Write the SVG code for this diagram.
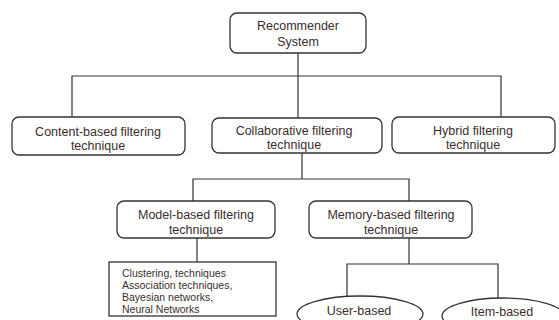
<svg xmlns="http://www.w3.org/2000/svg" width="559" height="320" viewBox="0 0 559 320">
<style>
.box{fill:#fff;stroke:#333;stroke-width:1.3}
.t{font-family:"Liberation Sans",Arial,sans-serif;font-size:12.5px;fill:#3a2e2e;text-anchor:middle}
.s{font-family:"Liberation Sans",Arial,sans-serif;font-size:10.5px;fill:#3a2e2e}
.c{fill:none;stroke:#333;stroke-width:1.2}
</style>
<rect width="559" height="320" fill="#fff"/>
<g id="connectors">
<polyline class="c" points="298,53 298,76"/>
<polyline class="c" points="72,117 72,76 501,76 501,117"/>
<polyline class="c" points="298,76 298,118"/>
<polyline class="c" points="302,153 302,179"/>
<polyline class="c" points="193,201 193,179 409,179 409,201"/>
<polyline class="c" points="197,238 197,262"/>
<polyline class="c" points="409,238 409,264"/>
<polyline class="c" points="347,297 347,264 498,264 498,298"/>
</g>
<g id="recommender">
<rect class="box" x="230" y="13" width="136" height="40" rx="7"/>
<text class="t" x="298" y="30">Recommender</text>
<text class="t" x="298" y="46">System</text>
</g>
<g id="content">
<rect class="box" x="12" y="117" width="173" height="38" rx="7"/>
<text class="t" x="98" y="136">Content-based filtering</text>
<text class="t" x="98" y="150">technique</text>
</g>
<g id="collaborative">
<rect class="box" x="212" y="118" width="170" height="35" rx="7"/>
<text class="t" x="294" y="135">Collaborative filtering</text>
<text class="t" x="294" y="149">technique</text>
</g>
<g id="hybrid">
<rect class="box" x="392" y="117" width="163" height="36" rx="7"/>
<text class="t" x="473" y="135">Hybrid filtering</text>
<text class="t" x="473" y="149">technique</text>
</g>
<g id="model">
<rect class="box" x="117" y="201" width="158" height="37" rx="7"/>
<text class="t" x="196" y="219">Model-based filtering</text>
<text class="t" x="196" y="234">technique</text>
</g>
<g id="memory">
<rect class="box" x="309" y="201" width="163" height="37" rx="7"/>
<text class="t" x="391" y="219">Memory-based filtering</text>
<text class="t" x="391" y="234">technique</text>
</g>
<g id="model-list">
<rect class="box" x="109" y="262" width="167" height="54" rx="0"/>
<text class="s" x="122" y="277">Clustering, techniques</text>
<text class="s" x="122" y="289">Association techniques,</text>
<text class="s" x="122" y="301">Bayesian networks,</text>
<text class="s" x="122" y="313">Neural Networks</text>
</g>
<g id="user-based">
<ellipse class="box" cx="360" cy="314" rx="63" ry="18"/>
<text class="t" x="359" y="315">User-based</text>
</g>
<g id="item-based">
<ellipse class="box" cx="503" cy="316" rx="61" ry="18"/>
<text class="t" x="502" y="316">Item-based</text>
</g>
</svg>
